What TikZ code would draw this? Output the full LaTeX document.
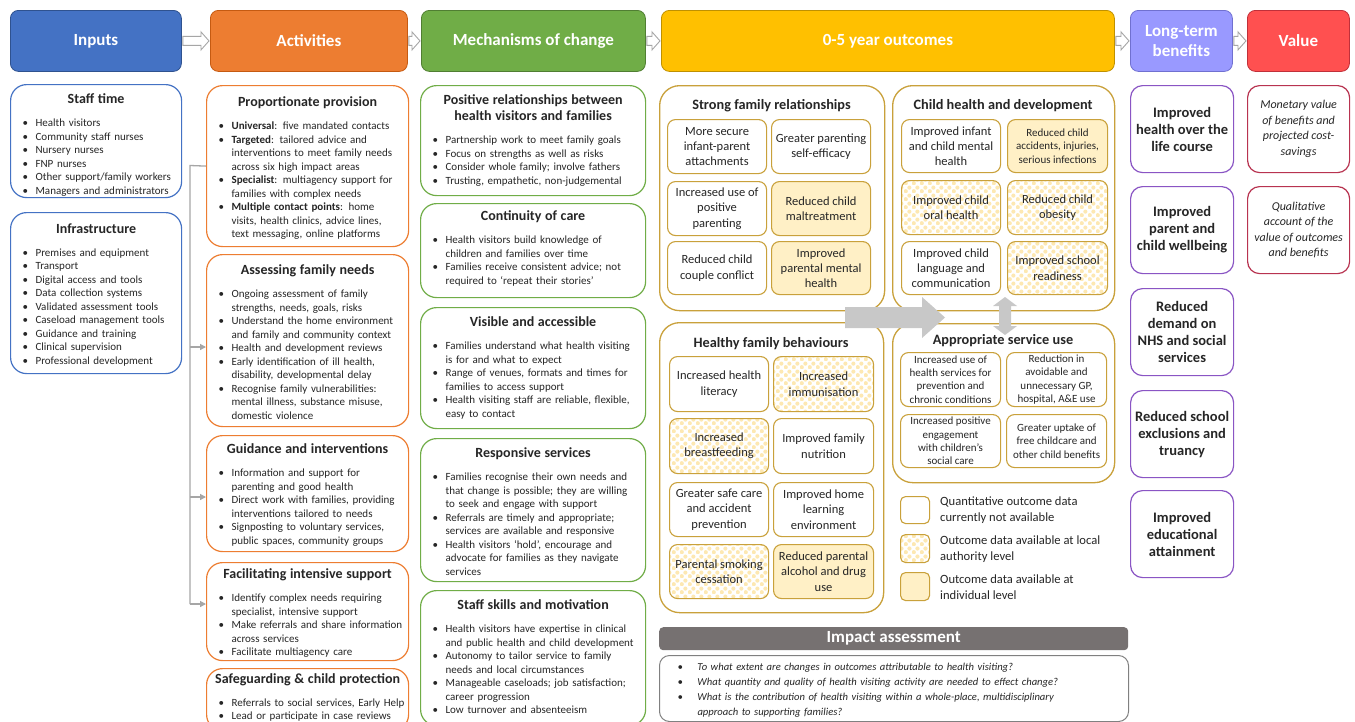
\documentclass[tikz,border=0pt]{standalone}
\usepackage{fontspec}
\setmainfont{Carlito}
\usetikzlibrary{arrows.meta,calc,patterns.meta}
\definecolor{txt}{HTML}{262626}
\definecolor{cblue}{HTML}{4472C4}
\definecolor{cblueD}{HTML}{2F528F}
\definecolor{corange}{HTML}{ED7D31}
\definecolor{corangeD}{HTML}{C55A11}
\definecolor{cgreen}{HTML}{70AD47}
\definecolor{cgreenD}{HTML}{507E32}
\definecolor{cgold}{HTML}{FFC000}
\definecolor{cgoldD}{HTML}{BF9000}
\definecolor{cgb}{HTML}{C9A13B}
\definecolor{cpurp}{HTML}{9999FF}
\definecolor{cpurpD}{HTML}{7070D0}
\definecolor{cpb}{HTML}{8A55C4}
\definecolor{cred}{HTML}{FF5050}
\definecolor{credD}{HTML}{C0303A}
\definecolor{crb}{HTML}{B83350}
\definecolor{cfill}{HTML}{FFF0C6}
\definecolor{cdot}{HTML}{FDE8B2}
\definecolor{carr}{HTML}{A6A6A6}
\definecolor{cbig}{HTML}{C8C8C8}
\definecolor{cimp}{HTML}{767171}
\definecolor{cimpb}{HTML}{808080}
\tikzdeclarepattern{
  name=ydots,
  type=uncolored,
  bottom left={(0pt,0pt)},
  top right={(8pt,8pt)},
  tile size={(8pt,8pt)},
  code={
    \fill (2pt,2pt) circle [radius=2.3pt];
    \fill (6pt,6pt) circle [radius=2.3pt];
  }
}
\newlength\bulind \setlength\bulind{23pt}
\newlength\bulsk \setlength\bulsk{10pt}
\newcommand\bul[1]{\par\hangindent=\bulind\hangafter=1\noindent\hbox to \bulind{\hskip\bulsk\textbullet\hss}#1}
\newcommand\ttl[1]{{\centering\fontsize{14}{16}\selectfont\bfseries #1\par}\vspace{9.5pt}}
\newcommand\bodyf{\fontsize{11}{13.5}\selectfont}
\newcommand\obf{\fontsize{12.5}{15.3}\selectfont}
\newcommand\obsf{\fontsize{11}{13.3}\selectfont}
\newcommand\hdrf{\fontsize{17}{20}\selectfont\bfseries}
% name, x, y, w, h, style, yoff, content, textwidth
\newcommand\panel[9]{%
  \node[#6, anchor=north west, minimum width=#4pt, minimum height=#5pt] (#1) at (#2,#3) {};
  \node[anchor=north, text width=#9pt, inner sep=0pt, font=\bodyf, text=txt] (#1t) at ([yshift=-#7pt]#1.north) {{\parindent=0pt\raggedright\hfuzz=20pt #8\par}};
}
\newcommand\obox[7]{\node[#6, minimum width=#4pt, minimum height=#5pt] (#1) at (#2,#3) {#7};}
\newcommand\harr[2]{\draw[harst] let \p1=(#1.east), \p2=(#2.west) in
  (\x1+1pt,\y1+4.5pt) -- (\x2-9pt,\y1+4.5pt) -- (\x2-9pt,\y1+9pt) -- (\x2-1pt,\y1) --
  (\x2-9pt,\y1-9pt) -- (\x2-9pt,\y1-4.5pt) -- (\x1+1pt,\y1-4.5pt) -- cycle;}
\begin{document}
\begin{tikzpicture}[x=1pt,y=-1pt,
  hdr/.style={rounded corners=8pt, text=white, font=\hdrf, line width=0.8pt, align=center, anchor=north west, minimum height=61pt},
  harst/.style={draw=carr, fill=white, line width=0.9pt},
  pin/.style={draw=cblue, line width=1.2pt, rounded corners=16pt},
  pact/.style={draw=corange, line width=1.2pt, rounded corners=16pt},
  pmech/.style={draw=cgreen, line width=1.2pt, rounded corners=16pt},
  grp/.style={draw=cgb, line width=1.3pt, rounded corners=20pt, anchor=north west},
  gttl/.style={font=\fontsize{14.3}{16}\selectfont\bfseries, text=txt, inner sep=0pt, anchor=base},
  ob/.style={draw=cgb, line width=1.1pt, rounded corners=8pt, anchor=north west, align=center, text=txt, font=\obf, inner sep=0pt},
  obs/.style={ob, fill=cfill},
  obd/.style={ob, pattern=ydots, pattern color=cdot},
  lt/.style={draw=cpb, line width=1.2pt, rounded corners=12pt, anchor=north west, align=center, text=txt, font=\fontsize{14.5}{17}\selectfont\bfseries, minimum width=103pt, minimum height=87pt},
  vs/.style={draw=crb, line width=1.2pt, rounded corners=12pt, anchor=north west, align=center, text=txt, font=\fontsize{12}{15.5}\selectfont\itshape, minimum width=102pt, minimum height=87pt},
  gln/.style={draw=carr, line width=1.3pt},
  garr/.style={gln, -{Triangle[length=6pt,width=6pt]}},
  legt/.style={anchor=west, inner sep=0pt, align=left, text=txt, font=\fontsize{12.6}{16}\selectfont}
]
\useasboundingbox (0,0) rectangle (1355,721);
\fill[white] (0,0) rectangle (1355,721);

% headers
\node[hdr, fill=cblue, draw=cblueD, minimum width=171pt] (hin) at (10,10) {Inputs};
\node[hdr, fill=corange, draw=corangeD, minimum width=197pt] (hact) at (210,10) {Activities};
\node[hdr, fill=cgreen, draw=cgreenD, minimum width=224pt] (hmech) at (421,10) {Mechanisms of change};
\node[hdr, fill=cgold, draw=cgoldD, minimum width=453pt] (hout) at (661,10) {0-5 year outcomes};
\node[hdr, fill=cpurp, draw=cpurpD, minimum width=102pt] (hlt) at (1130,10) {Long-term\\benefits};
\node[hdr, fill=cred, draw=credD, minimum width=102pt] (hval) at (1247,10) {Value};
\harr{hin}{hact}
\harr{hact}{hmech}
\harr{hmech}{hout}
\harr{hout}{hlt}
\harr{hlt}{hval}

% inputs
\panel{staff}{10}{84}{171}{113}{pin}{9.5}{\ttl{Staff time}\bul{Health visitors}\bul{Community staff nurses}\bul{Nursery nurses}\bul{FNP nurses}\bul{Other support/family workers}\bul{Managers and administrators}}{167}
\panel{infra}{10}{212}{171}{161}{pin}{11.5}{\ttl{Infrastructure}\bul{Premises and equipment}\bul{Transport}\bul{Digital access and tools}\bul{Data collection systems}\bul{Validated assessment tools}\bul{Caseload management tools}\bul{Guidance and training}\bul{Clinical supervision}\bul{Professional development}}{167}

% activities
\panel{prop}{206}{85}{202}{161}{pact}{11.5}{\ttl{Proportionate provision}\bul{\textbf{Universal}: five mandated contacts}\bul{\textbf{Targeted}: tailored advice and\newline interventions to meet family needs\newline across six high impact areas}\bul{\textbf{Specialist}: multiagency support for\newline families with complex needs}\bul{\textbf{Multiple contact points}: home\newline visits, health clinics, advice lines,\newline text messaging, online platforms}}{198}
\panel{assess}{206}{254}{202}{172}{pact}{10.5}{\ttl{Assessing family needs}\bul{Ongoing assessment of family\newline strengths, needs, goals, risks}\bul{Understand the home environment\newline and family and community context}\bul{Health and development reviews}\bul{Early identification of ill health,\newline disability, developmental delay}\bul{Recognise family vulnerabilities:\newline mental illness, substance misuse,\newline domestic violence}}{198}
\panel{guid}{206}{435}{202}{116}{pact}{8.5}{\ttl{Guidance and interventions}\bul{Information and support for\newline parenting and good health}\bul{Direct work with families, providing\newline interventions tailored to needs}\bul{Signposting to voluntary services,\newline public spaces, community groups}}{198}
\panel{facil}{206}{562}{202}{98}{pact}{6.5}{\ttl{Facilitating intensive support}\bul{Identify complex needs requiring\newline specialist, intensive support}\bul{Make referrals and share information\newline across services}\bul{Facilitate multiagency care}}{198}
\panel{safe}{206}{668}{202}{62}{pact}{5}{\ttl{Safeguarding \& child protection}\bul{Referrals to social services, Early Help}\bul{Lead or participate in case reviews}}{198}

% bracket connector
\coordinate (bt) at (190,165.5);
\coordinate (b1) at (190,347);
\coordinate (b2) at (190,497);
\coordinate (b3) at (190,604);
\draw[gln] (prop.west) -- (bt) -- (b3);
\draw[garr] (b1) -- (b1 -| assess.west);
\draw[garr] (b2) -- (b2 -| guid.west);
\draw[garr] (b3) -- (b3 -| facil.west);

% mechanisms
\panel{posrel}{420}{85}{225}{110}{pmech}{9.5}{\ttl{Positive relationships between\\health visitors and families}\bul{Partnership work to meet family goals}\bul{Focus on strengths as well as risks}\bul{Consider whole family; involve fathers}\bul{Trusting, empathetic, non-judgemental}}{221}
\panel{cont}{420}{203}{225}{94}{pmech}{7.5}{\ttl{Continuity of care}\bul{Health visitors build knowledge of\newline children and families over time}\bul{Families receive consistent advice; not\newline required to ‘repeat their stories’}}{221}
\panel{vis}{420}{307}{225}{121}{pmech}{9.5}{\ttl{Visible and accessible}\bul{Families understand what health visiting\newline is for and what to expect}\bul{Range of venues, formats and times for\newline families to access support}\bul{Health visiting staff are reliable, flexible,\newline easy to contact}}{221}
\panel{resp}{420}{438}{225}{143}{pmech}{9.5}{\ttl{Responsive services}\bul{Families recognise their own needs and\newline that change is possible; they are willing\newline to seek and engage with support}\bul{Referrals are timely and appropriate;\newline services are available and responsive}\bul{Health visitors ‘hold’, encourage and\newline advocate for families as they navigate\newline services}}{221}
\panel{skills}{420}{590}{225}{135}{pmech}{9.5}{\ttl{Staff skills and motivation}\bul{Health visitors have expertise in clinical\newline and public health and child development}\bul{Autonomy to tailor service to family\newline needs and local circumstances}\bul{Manageable caseloads; job satisfaction;\newline career progression}\bul{Low turnover and absenteeism}}{221}

% outcome groups
\node[grp, minimum width=225pt, minimum height=225pt] (gsfr) at (659,85) {};
\node[gttl] (gsfrt) at (771.5,109) {Strong family relationships};
\node[grp, minimum width=222pt, minimum height=225pt] (gchd) at (892,85) {};
\node[gttl] (gchdt) at (1003,109) {Child health and development};
\node[grp, minimum width=224pt, minimum height=290pt] (ghfb) at (659,322) {};
\node[gttl] (ghfbt) at (771,347) {Healthy family behaviours};
\node[grp, minimum width=222pt, minimum height=159pt] (gasu) at (892,323) {};
\node[gttl] (gasut) at (1003,344) {Appropriate service use};

\obox{o11}{667}{119}{99}{54}{ob}{More secure\\infant-parent\\attachments}
\obox{o12}{771}{119}{99}{54}{ob}{Greater parenting\\self-efficacy}
\obox{o13}{667}{181}{99}{54}{ob}{Increased use of\\positive\\parenting}
\obox{o14}{771}{181}{99}{54}{obs}{Reduced child\\maltreatment}
\obox{o15}{667}{241}{99}{53}{ob}{Reduced child\\couple conflict}
\obox{o16}{771}{241}{99}{53}{obs}{Improved\\parental mental\\health}

\obox{o21}{901}{119}{99}{53}{ob}{Improved infant\\and child mental\\health}
\obox{o22}{1007}{119}{100}{53}{obs, font=\obsf}{Reduced child\\accidents, injuries,\\serious infections}
\obox{o23}{901}{180}{99}{54}{obd}{Improved child\\oral health}
\obox{o24}{1007}{180}{100}{54}{obd}{Reduced child\\obesity}
\obox{o25}{901}{241}{99}{53}{ob}{Improved child\\language and\\communication}
\obox{o26}{1007}{241}{100}{53}{obd}{Improved school\\readiness}

\obox{o31}{669}{356}{99}{55}{ob}{Increased health\\literacy}
\obox{o32}{773}{356}{100}{55}{obd}{Increased\\immunisation}
\obox{o33}{669}{418}{99}{55}{obd}{Increased\\breastfeeding}
\obox{o34}{773}{418}{100}{55}{ob}{Improved family\\nutrition}
\obox{o35}{669}{482}{99}{54}{ob}{Greater safe care\\and accident\\prevention}
\obox{o36}{773}{482}{100}{54}{ob}{Improved home\\learning\\environment}
\obox{o37}{669}{544}{99}{54}{obd}{Parental smoking\\cessation}
\obox{o38}{773}{544}{100}{54}{obs}{Reduced parental\\alcohol and drug\\use}

\obox{o41}{900}{352}{100}{54}{ob, font=\obsf}{Increased use of\\health services for\\prevention and\\chronic conditions}
\obox{o42}{1006}{352}{100}{54}{ob, font=\obsf}{Reduction in\\avoidable and\\unnecessary GP,\\hospital, A\&E use}
\obox{o43}{900}{414}{100}{53}{ob, font=\obsf}{Increased positive\\engagement\\with children’s\\social care}
\obox{o44}{1006}{414}{100}{53}{ob, font=\obsf}{Greater uptake of\\free childcare and\\other child benefits}

% big grey arrows
\fill[cbig] (845,307) -- (922,307) -- (922,297) -- (945,317.5) -- (922,338) -- (922,328) -- (845,328) -- cycle;
\fill[cbig] (1005,297) -- (1017,306) -- (1011,306) -- (1011,326) -- (1017,326) -- (1005,335) -- (993,326) -- (999,326) -- (999,306) -- (993,306) -- cycle;

% legend
\obox{lg1}{900}{496}{29}{27}{ob, rounded corners=5pt}{}
\node[legt] (lg1t) at (940,510) {Quantitative outcome data\\currently not available};
\obox{lg2}{900}{534}{29}{28}{obd, rounded corners=5pt}{}
\node[legt] (lg2t) at (940,549) {Outcome data available at local\\authority level};
\obox{lg3}{900}{572}{29}{28}{obs, rounded corners=5pt}{}
\node[legt] (lg3t) at (940,587) {Outcome data available at\\individual level};

% impact assessment
\node[fill=cimp, rounded corners=4pt, minimum width=469pt, minimum height=23pt, anchor=north west, text=white, font=\fontsize{17}{18}\selectfont\bfseries, inner sep=0pt] (impb) at (659,627) {Impact assessment};
\node[draw=cimpb, line width=1pt, rounded corners=10pt, minimum width=469pt, minimum height=66pt, anchor=north west] (impx) at (659,655) {};
\node[anchor=north, text width=449pt, inner sep=0pt, font=\fontsize{10.6}{15}\selectfont\itshape, text=txt] (impt) at ([yshift=-0.5pt]impx.north) {{\parindent=0pt\raggedright\setlength\bulind{28pt}\setlength\bulsk{8pt}%
\bul{To what extent are changes in outcomes attributable to health visiting?}%
\bul{What quantity and quality of health visiting activity are needed to effect change?}%
\bul{What is the contribution of health visiting within a whole-place, multidisciplinary\newline approach to supporting families?}\par}};

% long-term benefits
\node[lt] (lt1) at (1130,85) {Improved\\health over the\\life course};
\node[lt] (lt2) at (1130,186) {Improved\\parent and\\child wellbeing};
\node[lt] (lt3) at (1130,288) {Reduced\\demand on\\NHS and social\\services};
\node[lt] (lt4) at (1130,390) {Reduced school\\exclusions and\\truancy};
\node[lt] (lt5) at (1130,490) {Improved\\educational\\attainment};

% value
\node[vs] (v1) at (1247,85) {Monetary value\\of benefits and\\projected cost-\\savings};
\node[vs] (v2) at (1247,186) {Qualitative\\account of the\\value of outcomes\\and benefits};
\end{tikzpicture}
\end{document}
